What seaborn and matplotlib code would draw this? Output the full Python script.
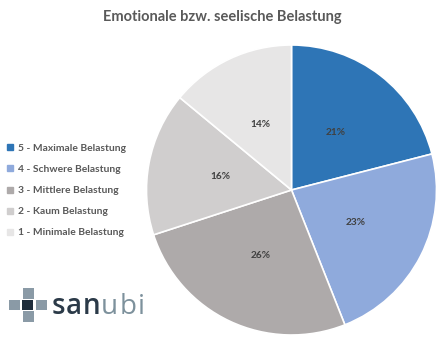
import matplotlib
matplotlib.use("Agg")
import matplotlib.pyplot as plt
import seaborn as sns
from matplotlib.patches import Rectangle
from matplotlib.lines import Line2D

sns.set_theme(style="white")
plt.rcParams["font.family"] = ["Lato", "DejaVu Sans"]

# Data
categories = ["5 - Maximale Belastung", "4 - Schwere Belastung", "3 - Mittlere Belastung",
              "2 - Kaum Belastung", "1 - Minimale Belastung"]
shares = [21, 23, 26, 16, 14]
colors = ["#2e75b6", "#8faadc", "#aeaaaa", "#d0cece", "#e7e6e6"]
title = "Emotionale bzw. seelische Belastung"

fig = plt.figure(figsize=(4.44, 3.45), dpi=100)
fig.patch.set_facecolor("white")

W, H = 444, 345
cx, cy, r = 291.5, 190, 145
ax = fig.add_axes([(cx - r) / W, (H - cy - r) / H, 2 * r / W, 2 * r / H])
wedges, texts, autotexts = ax.pie(
    shares, colors=colors, startangle=90, counterclock=False,
    autopct="%1.0f%%", pctdistance=0.5,
    wedgeprops=dict(edgecolor="white", linewidth=1.2),
    textprops=dict(color="#404040", fontsize=7.3, fontweight="bold"),
)
ax.set_aspect("equal")
ax.set_xlim(-1, 1)
ax.set_ylim(-1, 1)
ax.axis("off")

fig.text(222 / W, 1 - 17 / H, title, ha="center", va="center",
         fontsize=10.5, fontweight="bold", color="#595959")

# Legend
handles = [Line2D([], [], marker="s", linestyle="none", markersize=4,
                  markerfacecolor=c, markeredgecolor=c) for c in colors]
leg = fig.legend(handles, categories, loc="center left",
                 bbox_to_anchor=(4 / W, 1 - 190.5 / H), frameon=False,
                 handlelength=0.6, handletextpad=0.45, labelspacing=1.15,
                 borderaxespad=0.0, borderpad=0.3,
                 prop=dict(size=7.4, weight="bold"))
for t in leg.get_texts():
    t.set_color("#595959")

# Logo: plus-shaped block of squares plus spaced wordmark
lax = fig.add_axes([0, 0, 1, 1], facecolor="none")
lax.set_xlim(0, W)
lax.set_ylim(H, 0)
lax.axis("off")
sq = [(23, 288, "#8a9aa6"), (8.5, 299.5, "#8a9aa6"), (22, 299.5, "#1f2d3b"),
      (35.5, 299.5, "#8a9aa6"), (23, 311, "#8a9aa6")]
for x, y, c in sq:
    lax.add_patch(Rectangle((x, y), 11, 10.5, facecolor=c, edgecolor="none"))
letters = [("s", 51.5, "#2b3a48", "semibold"), ("a", 66, "#2b3a48", "semibold"),
           ("n", 83, "#2b3a48", "semibold"), ("u", 100.5, "#7d919c", "normal"),
           ("b", 119.5, "#7d919c", "normal"), ("i", 137.5, "#7d919c", "normal")]
for ch, x, c, w in letters:
    lax.text(x, 314.5, ch, fontsize=20, color=c, va="baseline", ha="left",
             fontweight=w, family=["Open Sans", "DejaVu Sans"])

fig.savefig("out.png", dpi=100, facecolor="white")
